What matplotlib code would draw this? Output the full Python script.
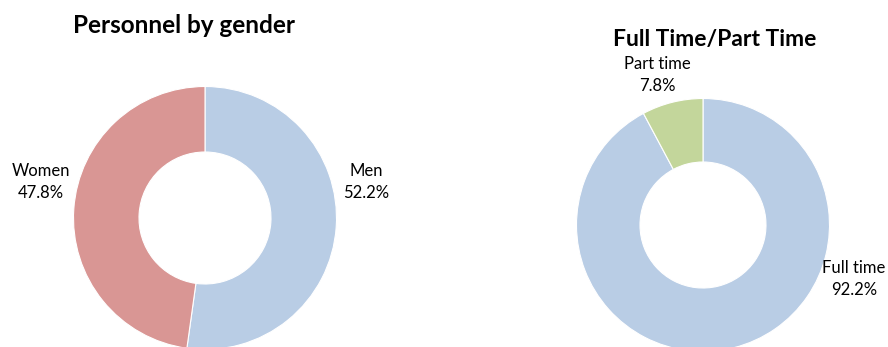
import matplotlib.pyplot as plt

plt.rcParams['font.family'] = ['Lato', 'DejaVu Sans']

# Personnel by gender
gender_labels = ['Men', 'Women']
gender_values = [52.2, 47.8]
gender_colors = ['#B9CDE5', '#D99694']

# Full time / part time
time_labels = ['Full time', 'Part time']
time_values = [92.2, 7.8]
time_colors = ['#B9CDE5', '#C3D69B']

W, H = 888, 347
fig = plt.figure(figsize=(W / 100, H / 100), dpi=100)
ax = fig.add_axes([0, 0, 1, 1])

def donut(values, colors, cx, cy, R, r):
    # y is measured from the top, like the screen
    ax.pie(values, colors=colors, startangle=90, counterclock=False,
           center=(cx, H - cy), radius=R,
           wedgeprops=dict(width=R - r, edgecolor='white', linewidth=0.8))

donut(gender_values, gender_colors, 205, 218, 131.5, 66)
donut(time_values, time_colors, 703, 225, 126.5, 63)

def label(x, y, name, value):
    ax.text(x, H - y, f'{name}\n{value:.1f}%', ha='center', va='center',
            fontsize=12, linespacing=1.4, color='#000000')

label(41, 182, gender_labels[1], gender_values[1])
label(366, 182, gender_labels[0], gender_values[0])
label(657, 75, time_labels[1], time_values[1])
label(854, 279, time_labels[0], time_values[0])

ax.text(184, H - 25, 'Personnel by gender', ha='center', va='center',
        fontsize=17.5, fontweight='bold')
ax.text(715, H - 39, 'Full Time/Part Time', ha='center', va='center',
        fontsize=16.5, fontweight='bold')

ax.set_xlim(0, W)
ax.set_ylim(0, H)
ax.set_aspect('equal')
ax.axis('off')

fig.savefig('out.png', dpi=100)
